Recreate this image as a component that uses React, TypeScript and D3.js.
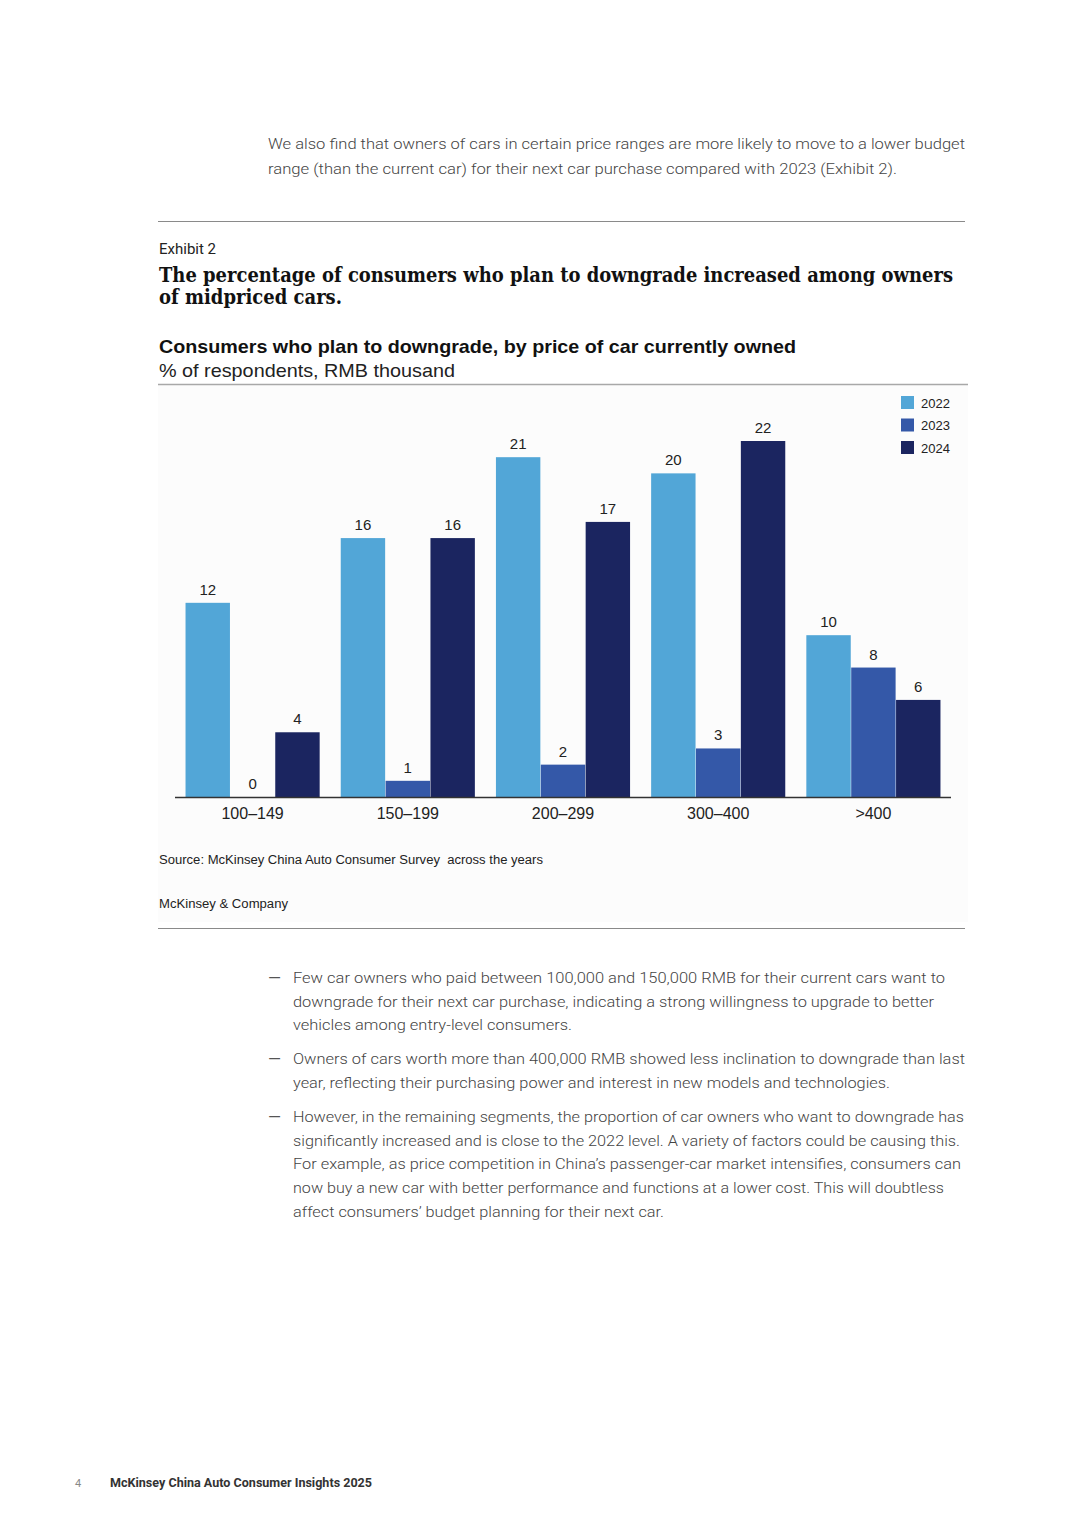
import React, { useEffect, useRef } from 'react';
import * as d3 from 'd3';

// chart data
const categories = ['100–149', '150–199', '200–299', '300–400', '>400'];
const years = ['2022', '2023', '2024'];
const values2022 = [12, 16, 21, 20, 10];
const values2023 = [0, 1, 2, 3, 8];
const values2024 = [4, 16, 17, 22, 6];
const seriesValues = [values2022, values2023, values2024];
const colors = ['#52a6d7', '#3458a8', '#1b2560'];

// page text
const introLines = [
  'We also find that owners of cars in certain price ranges are more likely to move to a lower budget',
  'range (than the current car) for their next car purchase compared with 2023 (Exhibit 2).',
];
const titleLines = [
  'The percentage of consumers who plan to downgrade increased among owners',
  'of midpriced cars.',
];
const chartTitle = 'Consumers who plan to downgrade, by price of car currently owned';
const chartSubtitle = '% of respondents, RMB thousand';
const sourceText = 'Source: McKinsey China Auto Consumer Survey  across the years';
const bullets = [
  [
    'Few car owners who paid between 100,000 and 150,000 RMB for their current cars want to',
    'downgrade for their next car purchase, indicating a strong willingness to upgrade to better',
    'vehicles among entry-level consumers.',
  ],
  [
    'Owners of cars worth more than 400,000 RMB showed less inclination to downgrade than last',
    'year, reflecting their purchasing power and interest in new models and technologies.',
  ],
  [
    'However, in the remaining segments, the proportion of car owners who want to downgrade has',
    'significantly increased and is close to the 2022 level. A variety of factors could be causing this.',
    'For example, as price competition in China\u2019s passenger-car market intensifies, consumers can',
    'now buy a new car with better performance and functions at a lower cost. This will doubtless',
    'affect consumers\u2019 budget planning for their next car.',
  ],
];

// layout widths for text fitting
const introWidths = [697, 629];
const titleWidths = [794, 183];
const bulletWidths = [[652, 641, 279], [672, 597], [671, 667, 668, 651, 371]];

const W = 1080;
const H = 1527;
const sans = 'Roboto, "Liberation Sans", Arial, sans-serif';
const arial = '"Liberation Sans", Arial, sans-serif';

const App: React.FC = () => {
  const ref = useRef<SVGSVGElement | null>(null);

  useEffect(() => {
    if (!ref.current) return;
    const svg = d3.select(ref.current);
    svg.selectAll('*').remove();

    svg.append('rect').attr('width', W).attr('height', H).attr('fill', '#fff');

    // intro paragraph
    introLines.forEach((t, i) => {
      svg.append('text')
        .attr('x', 268).attr('y', 149 + i * 25)
        .attr('font-family', sans).attr('font-weight', 300).attr('font-size', 15.5)
        .attr('fill', '#444')
        .attr('textLength', introWidths[i]).attr('lengthAdjust', 'spacingAndGlyphs')
        .text(t);
    });

    svg.append('line').attr('x1', 158).attr('x2', 965).attr('y1', 221.5).attr('y2', 221.5)
      .attr('stroke', '#8a8a8a').attr('stroke-width', 1.2);

    // chart panel background (very faint)
    svg.append('rect').attr('x', 158).attr('y', 385).attr('width', 810).attr('height', 537)
      .attr('fill', '#fcfcfc');

    svg.append('text').attr('x', 159).attr('y', 254)
      .attr('font-family', sans).attr('font-size', 15).attr('fill', '#222')
      .text('Exhibit 2');

    titleLines.forEach((t, i) => {
      svg.append('text')
        .attr('x', 159).attr('y', 282 + i * 22)
        .attr('font-family', '"DejaVu Serif", "Liberation Serif", serif').attr('font-weight', 700)
        .attr('font-size', 20).attr('fill', '#111')
        .attr('textLength', titleWidths[i]).attr('lengthAdjust', 'spacingAndGlyphs')
        .text(t);
    });

    svg.append('text').attr('x', 159).attr('y', 353)
      .attr('font-family', arial).attr('font-weight', 700).attr('font-size', 19).attr('fill', '#111')
      .attr('textLength', 637).attr('lengthAdjust', 'spacingAndGlyphs')
      .text(chartTitle);
    svg.append('text').attr('x', 159).attr('y', 377)
      .attr('font-family', arial).attr('font-size', 19).attr('fill', '#222')
      .attr('textLength', 296).attr('lengthAdjust', 'spacingAndGlyphs')
      .text(chartSubtitle);

    svg.append('line').attr('x1', 158).attr('x2', 968).attr('y1', 384.5).attr('y2', 384.5)
      .attr('stroke', '#a8a8a8').attr('stroke-width', 1.5);

    // bars
    const baseline = 797;
    const x0 = d3.scaleBand<string>().domain(categories).range([175, 951])
      .paddingInner(0.13).paddingOuter(0.065);
    const x1 = d3.scaleBand<string>().domain(years).range([0, x0.bandwidth()]).padding(0.01);
    const y = d3.scaleLinear().domain([0, 22]).range([baseline, 441]);

    const groups = svg.append('g').selectAll('g').data(categories).enter().append('g')
      .attr('transform', (c) => `translate(${x0(c)},0)`);

    groups.each(function (c, ci) {
      const g = d3.select(this);
      years.forEach((yr, si) => {
        const v = seriesValues[si][ci];
        g.append('rect')
          .attr('x', x1(yr)!).attr('y', y(v))
          .attr('width', x1.bandwidth()).attr('height', baseline - y(v))
          .attr('fill', colors[si]);
        g.append('text')
          .attr('x', x1(yr)! + x1.bandwidth() / 2).attr('y', y(v) - 8)
          .attr('text-anchor', 'middle')
          .attr('font-family', arial).attr('font-size', 15).attr('fill', '#222')
          .text(v);
      });
    });

    // x axis
    svg.append('line').attr('x1', 175).attr('x2', 951).attr('y1', baseline + 0.5).attr('y2', baseline + 0.5)
      .attr('stroke', '#333').attr('stroke-width', 1.6);
    categories.forEach((c) => {
      svg.append('text')
        .attr('x', x0(c)! + x0.bandwidth() / 2).attr('y', 819)
        .attr('text-anchor', 'middle')
        .attr('font-family', arial).attr('font-size', 16).attr('fill', '#222')
        .text(c);
    });

    // legend
    years.forEach((yr, i) => {
      svg.append('rect').attr('x', 901).attr('y', 396 + i * 22.5).attr('width', 13).attr('height', 13)
        .attr('fill', colors[i]);
      svg.append('text').attr('x', 921).attr('y', 407.5 + i * 22.5)
        .attr('font-family', arial).attr('font-size', 13).attr('fill', '#222')
        .text(yr);
    });

    svg.append('text').attr('x', 159).attr('y', 864)
      .attr('font-family', arial).attr('font-size', 12.5).attr('fill', '#222')
      .attr('textLength', 384).attr('lengthAdjust', 'spacingAndGlyphs')
      .attr('xml:space', 'preserve').style('white-space', 'pre')
      .text(sourceText);
    svg.append('text').attr('x', 159).attr('y', 908)
      .attr('font-family', arial).attr('font-size', 12.5).attr('fill', '#222')
      .attr('textLength', 129).attr('lengthAdjust', 'spacingAndGlyphs')
      .text('McKinsey & Company');

    svg.append('line').attr('x1', 158).attr('x2', 965).attr('y1', 928.5).attr('y2', 928.5)
      .attr('stroke', '#8a8a8a').attr('stroke-width', 1.2);

    // bullets
    const bulletStarts = [983, 1064, 1122];
    bullets.forEach((lines, bi) => {
      svg.append('text').attr('x', 268).attr('y', bulletStarts[bi])
        .attr('font-family', sans).attr('font-weight', 400).attr('font-size', 15.5).attr('fill', '#555')
        .attr('textLength', 13).attr('lengthAdjust', 'spacingAndGlyphs')
        .text('\u2014');
      lines.forEach((t, li) => {
        svg.append('text')
          .attr('x', 293).attr('y', bulletStarts[bi] + li * 23.7)
          .attr('font-family', sans).attr('font-weight', 300).attr('font-size', 15.5).attr('fill', '#444')
          .attr('textLength', bulletWidths[bi][li]).attr('lengthAdjust', 'spacingAndGlyphs')
          .text(t);
      });
    });

    // footer
    svg.append('text').attr('x', 75).attr('y', 1487)
      .attr('font-family', sans).attr('font-size', 11).attr('fill', '#888')
      .text('4');
    svg.append('text').attr('x', 110).attr('y', 1487)
      .attr('font-family', sans).attr('font-weight', 700).attr('font-size', 12).attr('fill', '#333')
      .attr('textLength', 262).attr('lengthAdjust', 'spacingAndGlyphs')
      .text('McKinsey China Auto Consumer Insights 2025');
  }, []);

  return (
    <div style={{ position: 'absolute', left: 0, top: 0 }}>
      <svg ref={ref} width={W} height={H} style={{ display: 'block' }}></svg>
    </div>
  );
};

export default App;
